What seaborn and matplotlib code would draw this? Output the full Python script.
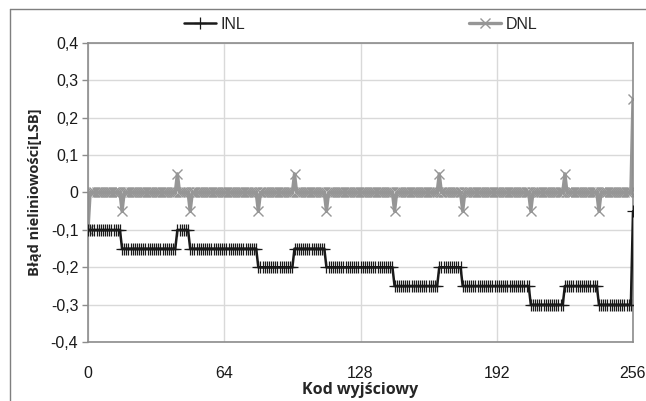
import numpy as np
import pandas as pd
import matplotlib
matplotlib.use("Agg")
import matplotlib.pyplot as plt
import seaborn as sns
from matplotlib.lines import Line2D

# ---- data ----
inl_starts = [0, 16, 42, 48, 80, 97, 112, 144, 165, 176, 208, 224, 240, 256]
inl_levels = [-0.10, -0.15, -0.10, -0.15, -0.20, -0.15, -0.20, -0.25, -0.20,
              -0.25, -0.30, -0.25, -0.30, -0.05]
dnl_codes = [0, 16, 42, 48, 80, 97, 112, 144, 165, 176, 208, 224, 240, 256]
dnl_values = [-0.10, -0.05, 0.05, -0.05, -0.05, 0.05, -0.05, -0.05, 0.05,
              -0.05, -0.05, 0.05, -0.05, 0.25]
last_code = 256
x_ticks = [0, 64, 128, 192, 256]
y_ticks = [0.4, 0.3, 0.2, 0.1, 0.0, -0.1, -0.2, -0.3, -0.4]
y_tick_labels = ["0,4", "0,3", "0,2", "0,1", "0", "-0,1", "-0,2", "-0,3", "-0,4"]

codes = np.arange(0, last_code + 1)
seg_len = np.diff(inl_starts + [last_code + 1])
inl = np.repeat(inl_levels, seg_len)
dnl = np.zeros(len(codes))
dnl[dnl_codes] = dnl_values

df_inl = pd.DataFrame({"code": codes, "val": inl})
df_dnl = pd.DataFrame({"code": codes, "val": dnl})

sns.set_theme(style="white")
plt.rcParams["font.family"] = ["Liberation Sans", "DejaVu Sans"]

fig = plt.figure(figsize=(6.46, 4.01), dpi=100)
ax = fig.add_axes([88 / 646, 1 - 342 / 401, (633 - 88) / 646, (342 - 43) / 401])

inl_col = "#1a1a1a"
dnl_col = "#969696"
sns.lineplot(data=df_inl, x="code", y="val", ax=ax, color=inl_col, lw=1.8,
             marker="+", markersize=8, markeredgewidth=0.9,
             markeredgecolor=inl_col, markerfacecolor=inl_col,
             label="INL", zorder=3)
sns.lineplot(data=df_dnl, x="code", y="val", ax=ax, color=dnl_col, lw=2.4,
             marker="x", markersize=7, markeredgewidth=1.0,
             markeredgecolor=dnl_col, markerfacecolor=dnl_col,
             label="DNL", zorder=2)

ax.set_xlim(0, 256)
ax.set_ylim(-0.4, 0.4)
ax.set_xticks(x_ticks)
ax.set_xticklabels([str(t) for t in x_ticks])
ax.set_yticks(y_ticks)
ax.set_yticklabels(y_tick_labels)
ax.grid(True, color="#d9d9d9", lw=1)
ax.set_axisbelow(True)
for s in ax.spines.values():
    s.set_color("#8c8c8c")
    s.set_linewidth(1.2)
ax.tick_params(axis="y", which="both", left=True, length=4, width=1,
               color="#8c8c8c", labelsize=11.5, pad=3, labelcolor="#1a1a1a")
ax.tick_params(axis="x", bottom=False, labelsize=11.5, pad=11,
               labelcolor="#1a1a1a")

ax.set_xlabel("Kod wyjściowy", fontsize=11.5, fontweight="bold",
              family=["Open Sans", "DejaVu Sans"], labelpad=1)
ax.set_ylabel("Błąd nieliniowości[LSB]", fontsize=10.5, fontweight="bold",
              family=["Open Sans", "DejaVu Sans"], labelpad=6)

ax.legend(loc="lower center", bbox_to_anchor=(0.5, 1.0), ncol=2,
          frameon=False, fontsize=11.5, handlelength=2.0, handletextpad=0.3,
          columnspacing=14.0, borderaxespad=0.3)

# outer chart frame (left and top edges)
fig.add_artist(Line2D([10 / 646, 10 / 646], [0, 1 - 9 / 401],
                      transform=fig.transFigure, color="#7f7f7f", lw=1))
fig.add_artist(Line2D([10 / 646, 1], [1 - 9 / 401, 1 - 9 / 401],
                      transform=fig.transFigure, color="#7f7f7f", lw=1))

fig.savefig("out.png", dpi=100)
